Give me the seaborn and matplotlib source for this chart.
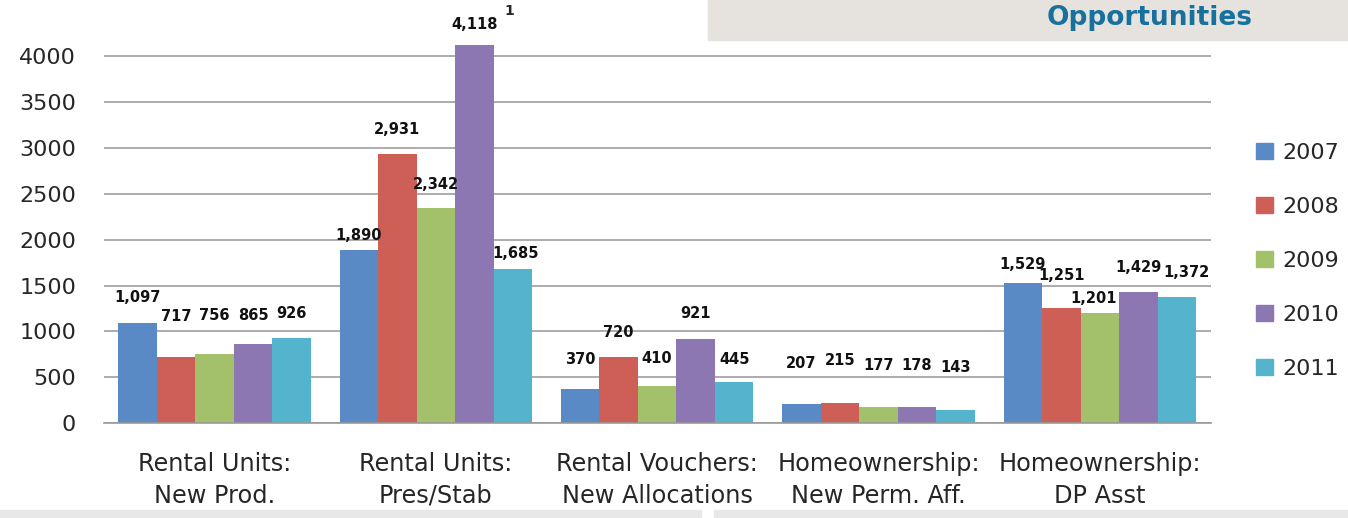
import pandas as pd
import matplotlib.pyplot as plt
import matplotlib.patches as mpatches
import seaborn as sns

categories = ["Rental Units:\nNew Prod.", "Rental Units:\nPres/Stab", "Rental Vouchers:\nNew Allocations",
              "Homeownership:\nNew Perm. Aff.", "Homeownership:\nDP Asst"]
years = ["2007", "2008", "2009", "2010", "2011"]
v2007 = [1097, 1890, 370, 207, 1529]
v2008 = [717, 2931, 720, 215, 1251]
v2009 = [756, 2342, 410, 177, 1201]
v2010 = [865, 4118, 921, 178, 1429]
v2011 = [926, 1685, 445, 143, 1372]
colors = ["#5a8ac6", "#cd5f57", "#a3c16a", "#8d77b2", "#55b4cd"]

# label placement (pixels above the bar top / sideways), as in the original slide
label_dy = [[25, 14, 30, 41, 18],
            [41, 25, 25, 43, 33],
            [38, 24, 27, 41, 15],
            [28, 21, 25, 41, 25],
            [25, 15, 23, 43, 25]]
label_dx = [[0, 0, 0, 0, 0],
            [0, 0, 0, 0, 0],
            [0, 0, 0, 0, -6],
            [0, 0, 0, 0, 0],
            [0, 3, 0, 0, 10]]

rows = []
for yr, vals in zip(years, [v2007, v2008, v2009, v2010, v2011]):
    for cat, v in zip(categories, vals):
        rows.append({"Category": cat, "Year": yr, "Value": v})
df = pd.DataFrame(rows)

sns.set_style("white")
plt.rcParams['font.family'] = ['DejaVu Sans']

fig = plt.figure(figsize=(13.48, 5.18), dpi=100)
ax = fig.add_axes([0.077, 0.183, 0.821, 0.788])

sns.barplot(data=df, x="Category", y="Value", hue="Year", palette=colors,
            width=0.87, saturation=1, linewidth=0, ax=ax, legend=False)

px = 72 / 100  # points per pixel
for i, cont in enumerate(ax.containers):
    for j, bar in enumerate(cont):
        h = bar.get_height()
        ax.annotate(f"{h:,.0f}", xy=(bar.get_x() + bar.get_width() / 2, h),
                    xytext=(label_dx[i][j] * px, label_dy[i][j] * px), textcoords="offset points",
                    ha="center", va="center", fontsize=10.5, fontweight="bold",
                    color="#111111", annotation_clip=False)

ax.set_ylim(0, 4450)
ax.set_xlim(-0.5, 4.5)
ax.set_yticks(range(0, 4001, 500))
ax.yaxis.grid(True, color="#a6a6a6", linewidth=1.3)
ax.set_axisbelow(True)
for s in ["top", "right", "left"]:
    ax.spines[s].set_visible(False)
ax.spines["bottom"].set_color("#999999")
ax.spines["bottom"].set_linewidth(1.2)
ax.set_xlabel("")
ax.set_ylabel("")
ax.tick_params(axis="y", length=0, labelsize=16, pad=20)
ax.tick_params(axis="x", which="major", length=0, labelsize=17.3, pad=21)
ax.set_xticks([-0.5, 0.5, 1.5, 2.5, 3.5, 4.5], minor=True)
ax.tick_params(axis="x", which="minor", length=9, color="#999999", width=1.2)
for lbl in ax.get_xticklabels():
    lbl.set_linespacing(1.4)

# footnote marker
ax.annotate("1", xy=(1.172, 4118), xytext=(22, 22), textcoords="offset points",
            fontsize=10, fontweight="bold", annotation_clip=False)

handles = [mpatches.Patch(color=c, label=y) for c, y in zip(colors, years)]
fig.legend(handles=handles, loc="upper left", bbox_to_anchor=(0.917, 0.763),
           frameon=False, fontsize=16, handlelength=0.75, handleheight=0.75,
           handletextpad=0.45, labelspacing=1.53)

# header banner
fig.patches.append(mpatches.Rectangle((0.525, 0.922), 0.475, 0.078,
                                      transform=fig.transFigure, color="#e6e3df", zorder=0))
fig.text(0.853, 0.965, "Opportunities", ha="center", va="center", fontsize=19,
         fontweight="bold", color="#17719c")
# bottom strips
fig.patches.append(mpatches.Rectangle((0, 0), 0.52, 0.015, transform=fig.transFigure,
                                      color="#e8e8e8", zorder=0))
fig.patches.append(mpatches.Rectangle((0.53, 0), 0.47, 0.015, transform=fig.transFigure,
                                      color="#e8e8e8", zorder=0))

fig.savefig("out.png", dpi=100)
